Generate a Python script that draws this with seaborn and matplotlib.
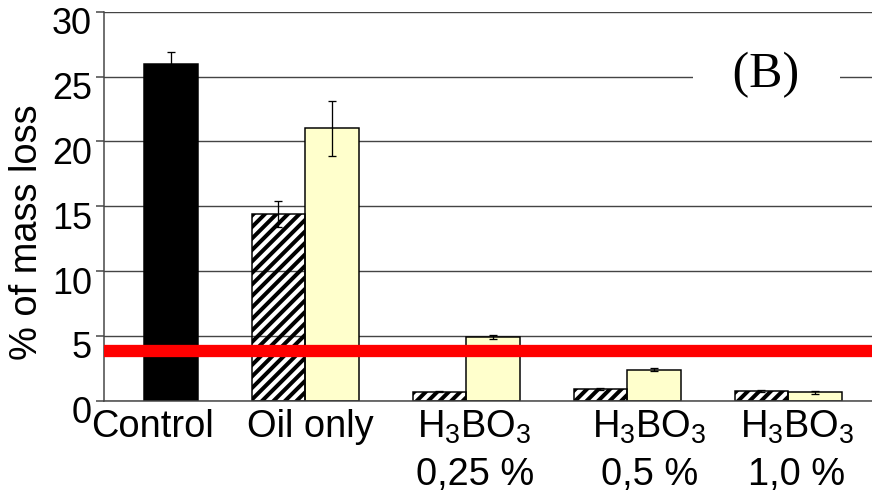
import matplotlib
matplotlib.use("Agg")
import matplotlib.pyplot as plt
import matplotlib.transforms as mtransforms
from matplotlib.lines import Line2D
import numpy as np
import seaborn as sns
import pandas as pd

# ---- data -------------------------------------------------------------
group_labels = ["Control", "Oil only",
                "H$_3$BO$_3$\n0,25 %", "H$_3$BO$_3$\n0,5 %", "H$_3$BO$_3$\n1,0 %"]

control_mean = 26.0
control_err = 0.9

# treated groups (Oil only, 0,25 %, 0,5 %, 1,0 %)
hatched_mean = [14.4, 0.7, 0.9, 0.75]
hatched_err = [1.0, 0.05, 0.08, 0.08]
plain_mean = [21.0, 4.9, 2.4, 0.65]
plain_err = [2.1, 0.15, 0.10, 0.12]

threshold = 3.8

# ---- long table: control in slot 0, each treated group takes two slots
rows = [{"pos": 0, "value": control_mean, "err": control_err, "series": "control"}]
for i in range(len(hatched_mean)):
    rows.append({"pos": 2 + 3 * i, "value": hatched_mean[i], "err": hatched_err[i], "series": "hatched"})
    rows.append({"pos": 3 + 3 * i, "value": plain_mean[i], "err": plain_err[i], "series": "plain"})
df = pd.DataFrame(rows)

# ---- style ------------------------------------------------------------
sns.set_style("white")
plt.rcParams["font.family"] = ["Liberation Sans", "DejaVu Sans"]
plt.rcParams["mathtext.fontset"] = "custom"
plt.rcParams["mathtext.rm"] = "Liberation Sans"
plt.rcParams["mathtext.it"] = "Liberation Sans:italic"
plt.rcParams["mathtext.bf"] = "Liberation Sans:bold"
for key in ("text.color", "axes.labelcolor", "xtick.labelcolor", "ytick.labelcolor"):
    plt.rcParams[key] = "black"

W, H = 872, 495
DPI = 72
fig = plt.figure(figsize=(W / DPI, H / DPI), dpi=DPI)
ax = fig.add_axes([104 / W, 94.3 / H, 768 / W, 389 / H])

palette = {"control": "black", "hatched": "white", "plain": "#FFFFCC"}
sns.barplot(data=df, x="pos", y="value", hue="series", palette=palette,
            native_scale=True, width=1.0, dodge=False, errorbar=None,
            saturation=1, edgecolor="black", linewidth=1.5, legend=False,
            ax=ax, zorder=2)
ax.set_xlim(-1.248, 13.06)
ax.set_ylim(0, 30)

# diagonal stripes on the white bars (pixel-space, clipped to each bar)
stripe_step = 11.5
for p in list(ax.patches):
    r, g, b, _ = p.get_facecolor()
    if r > 0.99 and g > 0.99 and b > 0.99:
        bb = p.get_window_extent()
        h = bb.height
        for x0 in np.arange(bb.x0 - h - stripe_step, bb.x1 + stripe_step, stripe_step):
            ln = Line2D([x0, x0 + h + 4], [bb.y0 - 2, bb.y1 + 2],
                        transform=mtransforms.IdentityTransform(),
                        color="black", lw=4.0, solid_capstyle="butt", zorder=2.1)
            ax.add_artist(ln)
            ln.set_clip_path(p)
        p.set_zorder(2.2)
        p.set_facecolor("none")

ax.errorbar(df["pos"], df["value"], yerr=df["err"], fmt="none",
            ecolor="black", elinewidth=1.3, capsize=4, capthick=1.3, zorder=3)

ax.axhline(threshold, color="red", lw=12.3, zorder=4)

# ---- axes -------------------------------------------------------------
ax.set_yticks(range(0, 31, 5))
ax.set_xticks([-0.35, 2.6, 5.66, 8.92, 11.66], group_labels)
ax.set_xlabel("")
ax.set_ylabel("% of mass loss", fontsize=38, va="center", ha="center")
ax.yaxis.set_label_coords(-0.100, 0.434)

ax.yaxis.grid(True, color="#444444", lw=1.4)
ax.xaxis.grid(False)
ax.set_axisbelow(True)

for side in ("top", "right"):
    ax.spines[side].set_visible(False)
for side in ("left", "bottom"):
    ax.spines[side].set_color("#444444")
    ax.spines[side].set_linewidth(1.5)

ax.tick_params(axis="y", length=8, width=1.5, color="#444444",
               labelsize=36, pad=4, left=True, labelcolor="black")
ax.tick_params(axis="x", length=0, labelsize=38, pad=8, labelcolor="black")
for lbl in ax.get_xticklabels():
    lbl.set_linespacing(1.4)

shift = mtransforms.ScaledTranslation(0, -9 / 72, fig.dpi_scale_trans)
for lbl in ax.get_yticklabels():
    lbl.set_transform(lbl.get_transform() + shift)

ax.text(11.09, 25.1, "   (B)   ", family="Liberation Serif", fontsize=50,
        ha="center", va="center", zorder=5, color="black",
        bbox=dict(facecolor="white", edgecolor="none", boxstyle="square,pad=0.05"))

fig.savefig("out.png", dpi=DPI)
